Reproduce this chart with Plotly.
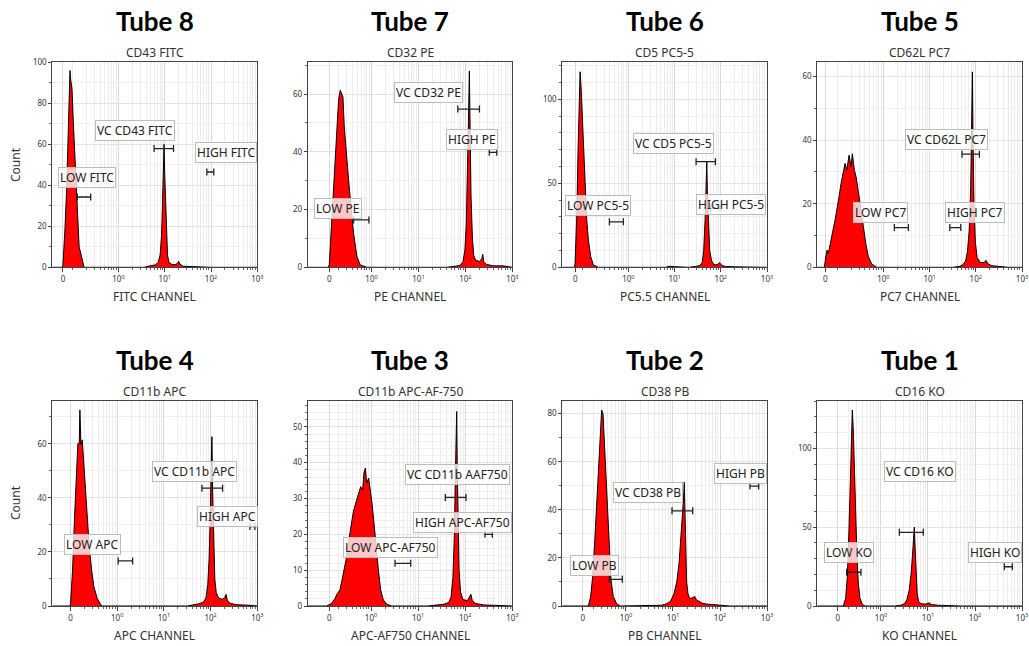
import math
import plotly.graph_objects as go
from plotly.subplots import make_subplots

# ---------------- DATA ----------------
tubes = ["Tube 8", "Tube 7", "Tube 6", "Tube 5", "Tube 4", "Tube 3", "Tube 2", "Tube 1"]
markers = ["CD43 FITC", "CD32 PE", "CD5 PC5-5", "CD62L PC7",
           "CD11b APC", "CD11b APC-AF-750", "CD38 PB", "CD16 KO"]
channels = ["FITC CHANNEL", "PE CHANNEL", "PC5.5 CHANNEL", "PC7 CHANNEL",
            "APC CHANNEL", "APC-AF750 CHANNEL", "PB CHANNEL", "KO CHANNEL"]

# display position (in decades, 10^0 at 0) of the "0" tick and axis left edge
zero_pos = [-1.2, -0.9, -1.15, -1.26, -1.0, -0.885, -0.921, -0.921]
x_min = [-1.43, -1.36, -1.43, -1.43, -1.39, -1.344, -1.355, -1.355]
y_max = [100.3, 71.2, 122.4, 64.7, 76, 57.3, 85.4, 130.2]
y_dtick = [20, 20, 50, 20, 20, 10, 20, 50]
y_minor = [10, 10, 10, 10, 10, 2, 10, 10]

tick_text = ["0", "10<sup>0</sup>", "10<sup>1</sup>", "10<sup>2</sup>", "10<sup>3</sup>"]

# histogram outlines (display position, count)
t8_x = [-1.43, -1.22, -1.2, -1.18, -1.156, -1.12, -1.084, -1.06, -1.048, -1.035, -1.02, -1.004,
        -0.976, -0.946, -0.918, -0.88, -0.85, -0.795, -0.77, -0.745,
        0.55, 0.62, 0.7, 0.8, 0.86, 0.9, 0.93, 0.95, 0.97, 0.985, 1.0, 1.02, 1.04, 1.06,
        1.09, 1.15, 1.22, 1.28, 1.3, 1.33, 1.4, 1.55, 1.8, 2.0, 3.0]
t8_y = [0, 0, 1, 8, 19, 38, 71, 90, 96, 92, 90, 87,
        71, 55, 38, 19, 10, 5, 2, 0,
        0, 0.5, 0.8, 1.2, 2.5, 6, 15, 30, 48, 60, 45, 28, 14, 6,
        2.5, 1.5, 1.2, 2, 3, 1.5, 0.5, 0.3, 0.2, 0, 0]

t7_x = [-1.36, -0.92, -0.9, -0.864, -0.808, -0.751, -0.702, -0.666, -0.609, -0.581, -0.538,
        -0.489, -0.438, -0.383, -0.311, -0.24, -0.098,
        1.6, 1.8, 1.9, 1.95, 1.99, 2.02, 2.045, 2.065, 2.085, 2.1, 2.12, 2.15, 2.18,
        2.22, 2.3, 2.35, 2.37, 2.39, 2.45, 2.6, 2.8, 3.0]
t7_y = [0, 0, 1, 11.8, 28, 44, 58, 61.3, 59, 48.8, 38.4,
        30.3, 21, 11.8, 3.7, 0.8, 0,
        0, 0.4, 0.8, 2, 6, 15, 30, 50, 68, 45, 25, 10, 4,
        2.5, 2, 3, 4.5, 2, 1, 0.5, 0.5, 0]

t6_x = [-1.43, -1.17, -1.154, -1.117, -1.089, -1.06, -1.045, -1.024, -1.002, -0.974, -0.937,
        -0.901, -0.866, -0.814, -0.758, -0.649,
        0.8, 0.9, 1.0, 1.3, 1.45, 1.55, 1.6, 1.63, 1.66, 1.68, 1.697, 1.71, 1.73, 1.76,
        1.8, 1.85, 1.92, 1.97, 2.02, 2.1, 2.3, 2.6, 3.0]
t6_y = [0, 0, 2, 30, 69.8, 99.6, 116.4, 107.5, 91.7, 69.8, 46,
        28.2, 16.3, 6.3, 1.4, 0,
        0, 0.6, 0.4, 0, 0.5, 1, 3, 10, 28, 48, 63, 45, 25, 10,
        4, 1.5, 1.5, 2.8, 1.2, 0.5, 0.3, 0, 0]

t5_x = [-1.43, -1.277, -1.247, -1.219, -1.19, -1.154, -1.104, -1.045, -1.002, -0.959, -0.916,
        -0.866, -0.829, -0.792, -0.742, -0.699, -0.671, -0.628, -0.591, -0.541, -0.483,
        -0.433, -0.381, -0.325, -0.251, -0.143,
        1.5, 1.65, 1.72, 1.78, 1.82, 1.86, 1.89, 1.91, 1.926, 1.94, 1.96, 1.99, 2.03,
        2.1, 2.18, 2.22, 2.27, 2.35, 2.5, 2.7, 3.0]
t5_y = [0, 0, 3.3, 5.4, 4.4, 7.5, 10.7, 14.9, 18, 22.2, 26.4,
        29.6, 32.7, 30.6, 35.3, 31.7, 35.7, 30.6, 28.5, 23.8, 18.6,
        12.8, 7.5, 3.3, 1, 0,
        0, 0.3, 0.8, 2, 5, 12, 25, 45, 61.5, 40, 20, 8, 3,
        1.5, 1.5, 2.2, 1, 0.5, 0.3, 0, 0]

t4_x = [-1.39, -1.01, -0.999, -0.956, -0.913, -0.87, -0.842, -0.813, -0.799, -0.777, -0.749,
        -0.72, -0.685, -0.642, -0.599, -0.549, -0.499, -0.428, -0.335,
        1.5, 1.65, 1.75, 1.85, 1.9, 1.94, 1.97, 1.99, 2.01, 2.028, 2.045, 2.065, 2.09,
        2.12, 2.17, 2.25, 2.3, 2.33, 2.36, 2.42, 2.55, 2.8, 3.0]
t4_y = [0, 0, 1, 13.3, 33, 52.8, 60.2, 60.2, 72.6, 59.6, 61.5,
        54, 44.2, 33, 22, 13.3, 7.1, 2.8, 0,
        0, 0.5, 0.8, 1.5, 3, 8, 18, 32, 50, 62.7, 42, 22, 10,
        5, 3, 2.5, 3, 4.3, 2, 1, 0.5, 0.3, 0]

t3_x = [-1.344, -0.941, -0.835, -0.764, -0.715, -0.658, -0.623, -0.573, -0.531, -0.481, -0.432,
        -0.375, -0.325, -0.269, -0.219, -0.177, -0.149, -0.12, -0.092, -0.05, -0.021,
        0.021, 0.064, 0.106, 0.156, 0.205, 0.262, 0.333, 0.439,
        1.2, 1.4, 1.55, 1.65, 1.7, 1.74, 1.77, 1.79, 1.805, 1.819, 1.83, 1.85, 1.87,
        1.9, 1.95, 2.05, 2.09, 2.12, 2.15, 2.22, 2.4, 2.7, 3.0]
t3_y = [0, 0, 0.75, 2.1, 3.5, 4.5, 6.8, 10, 12.8, 17.5, 22.2,
        26.3, 28.7, 31.5, 33.3, 32.4, 37.1, 38.5, 34.3, 35.7, 33.3,
        28.7, 23.1, 16.6, 10.1, 4.5, 1.7, 0.5, 0,
        0, 0.3, 0.5, 1, 2.5, 8, 20, 35, 48, 54.3, 40, 22, 10,
        4, 1.8, 1.5, 2.5, 3.3, 1.5, 0.7, 0.3, 0.2, 0]

t2_x = [-1.355, -0.801, -0.752, -0.709, -0.667, -0.624, -0.582, -0.546, -0.518, -0.489, -0.461,
        -0.426, -0.39, -0.355, -0.319, -0.27, -0.199, -0.128,
        0.6, 0.75, 0.85, 0.95, 1.02, 1.08, 1.13, 1.17, 1.2, 1.225, 1.241, 1.255, 1.27,
        1.29, 1.32, 1.36, 1.42, 1.46, 1.5, 1.55, 1.62, 1.72, 1.85, 2.0, 2.2, 3.0]
t2_y = [0, 0, 3.9, 12.2, 26, 42.7, 59.3, 74.6, 81.5, 80.1, 69,
        53.8, 37.1, 21.9, 10.8, 3.9, 1, 0,
        0, 0.3, 0.8, 2, 5, 10, 18, 28, 38, 45, 51.5, 38, 22,
        10, 5, 3, 3.5, 4, 2.5, 2, 1.2, 0.8, 0.5, 0.3, 0, 0]

t1_x = [-1.355, -0.801, -0.752, -0.716, -0.681, -0.652, -0.631, -0.61, -0.589, -0.567, -0.539,
        -0.511, -0.482, -0.447, -0.397, -0.34,
        0.3, 0.42, 0.5, 0.55, 0.6, 0.64, 0.67, 0.69, 0.709, 0.725, 0.745, 0.77, 0.8,
        0.85, 0.95, 1.02, 1.07, 1.2, 1.4, 1.7, 3.0]
t1_y = [0, 0, 4.9, 18.6, 48.2, 79.9, 103.2, 124.3, 111.6, 86.2, 56.6,
        31.3, 14.4, 4.9, 1, 0,
        0, 0.5, 1.5, 4, 10, 20, 32, 43, 50, 38, 20, 8, 3,
        1.5, 1.2, 2, 1, 0.5, 0.3, 0, 0]

hist_x = [t8_x, t7_x, t6_x, t5_x, t4_x, t3_x, t2_x, t1_x]
hist_y = [t8_y, t7_y, t6_y, t5_y, t4_y, t3_y, t2_y, t1_y]

label_text = [["LOW FITC", "VC CD43 FITC", "HIGH FITC"],
              ["LOW PE", "VC CD32 PE", "HIGH PE"],
              ["LOW PC5-5", "VC CD5 PC5-5", "HIGH PC5-5"],
              ["LOW PC7", "VC CD62L PC7", "HIGH PC7"],
              ["LOW APC", "VC CD11b APC", "HIGH APC"],
              ["LOW APC-AF750", "VC CD11b AAF750", "HIGH APC-AF750"],
              ["LOW PB", "VC CD38 PB", "HIGH PB"],
              ["LOW KO", "VC CD16 KO", "HIGH KO"]]
label_x = [[-0.686, 0.36, 2.32], [-0.705, 1.213, 2.136], [-0.656, 0.978, 2.219],
           [-0.071, 1.357, 1.978], [-0.535, 1.646, 2.353], [0.414, 1.843, 1.932],
           [-0.66, 0.475, 2.426], [-0.674, 0.84, 2.426]]
label_y = [[44, 66.5, 56], [20.5, 60.4, 44.2], [36.6, 73.5, 37.1], [17.4, 40.3, 17.4],
           [22.7, 49.9, 33.1], [16.2, 36.8, 23.2], [16.7, 47.1, 55], [33.9, 85.2, 33.9]]
gate_x1 = [[-0.89, 0.77, 1.91], [-0.383, 1.838, 2.51], [-0.411, 1.465, 1.783],
           [0.238, 1.703, 1.437], [0.021, 1.814, 2.842], [0.51, 1.578, 2.42],
           [-0.355, 0.979, 2.638], [-0.73, 0.39, 2.624]]
gate_x2 = [[-0.60, 1.19, 2.06], [-0.055, 2.30, 2.67], [-0.108, 1.883, 1.985],
           [0.541, 2.078, 1.675], [0.33, 2.257, 2.949], [0.843, 2.017, 2.576],
           [-0.078, 1.419, 2.823], [-0.426, 0.9, 2.794]]
gate_y = [[34.3, 57.9, 46.5], [16.4, 54.8, 39.8], [27.1, 62.9, 35.1], [12.5, 35.6, 12.5],
          [16.7, 43.6, 29.4], [11.9, 30.3, 20.0], [11.1, 39.6, 49.9], [21.4, 46.7, 24.9]]

# ---------------- LAYOUT ----------------
W, H = 1029, 646
col_px = [(52.3, 257.3), (307.7, 512.3), (562.3, 767.0), (817.3, 1022.0)]
row_px = [(61.7, 267.3), (400.7, 606.0)]

fig = make_subplots(rows=2, cols=4, horizontal_spacing=0.02, vertical_spacing=0.1)

FONT = "Noto Sans"
annotations = []

for i in range(8):
    r, c = i // 4, i % 4
    ax = i + 1
    xref = "x" if ax == 1 else f"x{ax}"
    yref = "y" if ax == 1 else f"y{ax}"

    fig.add_trace(go.Scatter(
        x=hist_x[i], y=hist_y[i], mode="lines", fill="tozeroy",
        fillcolor="#ff0000", line=dict(color="#000000", width=1),
        hoverinfo="skip", showlegend=False, cliponaxis=True), row=r + 1, col=c + 1)

    cx = [(a + b) / 2 for a, b in zip(gate_x1[i], gate_x2[i])]
    hw = [(b - a) / 2 for a, b in zip(gate_x1[i], gate_x2[i])]
    fig.add_trace(go.Scatter(
        x=cx, y=gate_y[i], mode="markers", marker=dict(size=1, color="rgba(0,0,0,0)"),
        error_x=dict(type="data", array=hw, symmetric=True, color="#222222",
                     thickness=1.3, width=3.5),
        hoverinfo="skip", showlegend=False), row=r + 1, col=c + 1)

    z = zero_pos[i]
    major = [z, 0, 1, 2, 3]
    minor = []
    for d in (-1, 0, 1, 2):
        for m in range(1, 10):
            if d == -1 or m > 1:
                p = d + math.log10(m)
                if p > z + 0.04:
                    minor.append(p)

    x0, x1 = col_px[c]
    yt, yb = row_px[r]
    fig.update_layout({
        f"xaxis{'' if ax == 1 else ax}": dict(
            domain=[x0 / W, x1 / W], range=[x_min[i], 3],
            tickmode="array", tickvals=major, ticktext=tick_text,
            ticks="outside", ticklen=4, tickcolor="#444", tickwidth=1,
            tickfont=dict(size=8, color="#333", family=FONT),
            showgrid=True, gridcolor="#d9d9d9", gridwidth=1,
            minor=dict(tickmode="array", tickvals=minor, ticks="outside", ticklen=2,
                       tickcolor="#666", showgrid=True, gridcolor="#ececec", gridwidth=1),
            showline=True, linecolor="#444", linewidth=1, mirror=True,
            zeroline=False, fixedrange=True, automargin=False),
        f"yaxis{'' if ax == 1 else ax}": dict(
            domain=[1 - yb / H, 1 - yt / H], range=[0, y_max[i]],
            tick0=0, dtick=y_dtick[i],
            ticks="outside", ticklen=3, tickcolor="#444",
            tickfont=dict(size=8, color="#333", family=FONT),
            showgrid=True, gridcolor="#e3e3e3", gridwidth=1,
            minor=dict(dtick=y_minor[i], ticks="outside", ticklen=2, tickcolor="#666",
                       showgrid=True, gridcolor="#f0f0f0"),
            showline=True, linecolor="#444", linewidth=1, mirror=True,
            zeroline=False, fixedrange=True, automargin=False),
    })

    xc = (x0 + x1) / 2 / W
    title_y = [21, 360][r]
    sub_y = [52, 391.7][r]
    chan_y = [296, 635][r]
    annotations.append(dict(text=f"<b>{tubes[i]}</b>", x=xc, y=1 - title_y / H,
                            xref="paper", yref="paper", showarrow=False,
                            xanchor="center", yanchor="middle",
                            font=dict(size=26, color="#000", family="Lato")))
    annotations.append(dict(text=markers[i], x=xc, y=1 - sub_y / H,
                            xref="paper", yref="paper", showarrow=False,
                            xanchor="center", yanchor="middle",
                            font=dict(size=12, color="#333", family=FONT)))
    annotations.append(dict(text=channels[i], x=xc, y=1 - chan_y / H,
                            xref="paper", yref="paper", showarrow=False,
                            xanchor="center", yanchor="middle",
                            font=dict(size=12, color="#333", family=FONT)))
    if c == 0:
        cy = [165, 503][r]
        annotations.append(dict(text="Count", x=15 / W, y=1 - cy / H,
                                xref="paper", yref="paper", showarrow=False,
                                textangle=-90, xanchor="center", yanchor="middle",
                                font=dict(size=12, color="#333", family=FONT)))

    for t, lx, ly in zip(label_text[i], label_x[i], label_y[i]):
        annotations.append(dict(text=t, x=lx, y=ly, xref=xref, yref=yref,
                                showarrow=False, xanchor="center", yanchor="middle",
                                bgcolor="rgba(255,255,255,0.78)", bordercolor="#bdbdbd",
                                borderwidth=1, borderpad=1,
                                font=dict(size=12, color="#222", family=FONT)))

fig.update_layout(
    width=W, height=H, margin=dict(l=0, r=0, t=0, b=0, pad=0, autoexpand=False),
    paper_bgcolor="white", plot_bgcolor="white",
    showlegend=False, annotations=annotations,
)

fig.write_html(
    "out.html",
    config={"displayModeBar": False},
    post_script="document.body.style.margin='0';document.body.style.padding='0';"
                "document.body.style.overflow='hidden';",
)
